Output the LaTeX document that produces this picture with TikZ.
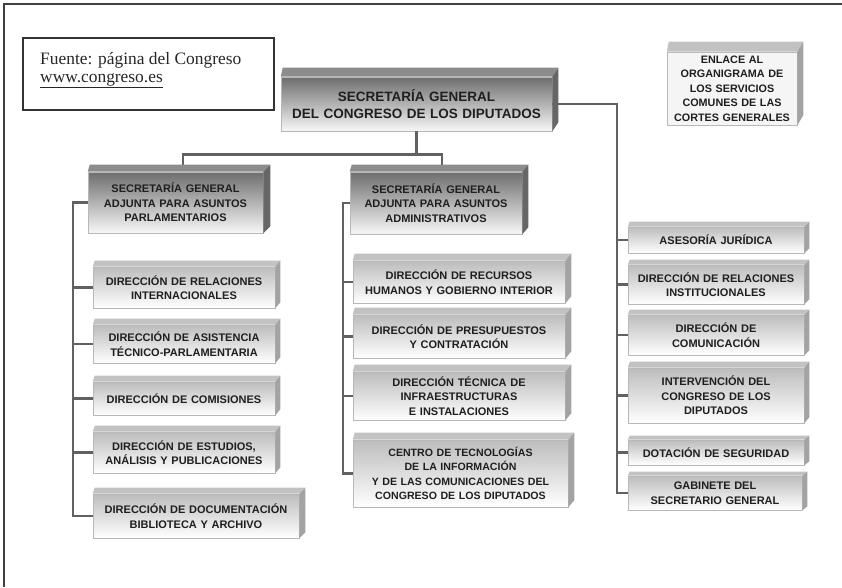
\documentclass[tikz,border=0pt]{standalone}
\RequirePackage{fontspec}
\RequirePackage{tikz}
\usetikzlibrary{calc}
\setmainfont{Liberation Serif}
\setsansfont{Liberation Sans}

\tikzset{
    box/.style={draw=black!28, line width=0.6pt, top color=black!26, bottom color=white,
        text=black!88, align=center, inner sep=0pt,
        font=\sffamily\bfseries\fontsize{11}{14.5}\selectfont},
    secbox/.style={box, top color=black!57, bottom color=black!3},
    linkbox/.style={box, top color=black!4, bottom color=black!4,
        font=\sffamily\bfseries\fontsize{10.8}{14.5}\selectfont},
    conn/.style={draw=black!62, line width=2.9pt},
    faceup/.style={fill=black!24},
    faceside/.style={fill=black!36},
    secup/.style={fill=black!45},
    secside/.style={fill=black!60},
}

\begin{document}
\begin{tikzpicture}[x=1pt,y=-1pt]
                \useasboundingbox (0,0) rectangle (842,587);
                \draw[black!75, line width=1.3pt] (4,587) |- (842,4);

                \node[draw=black!80, line width=1.3pt, minimum width=251pt, minimum height=72pt, inner sep=0pt] (fuente) at (148.5,74) {};
                \node[anchor=north west, align=left, inner sep=0pt, text=black!85,
                    font=\fontsize{17.4}{18}\selectfont] (fuentetxt) at (40,52)
                    {Fuente: página del Congreso\\\underline{www.congreso.es}};

                \node[secbox, text width=271pt, minimum height=54pt,
                    font=\sffamily\bfseries\fontsize{13.5}{17}\selectfont] (main) at (416.5,104)
                    {SECRETARÍA GENERAL\\DEL CONGRESO DE LOS DIPUTADOS};
                \node[linkbox, text width=130pt, minimum height=73pt] (enlace) at (732,88.5)
                    {ENLACE AL\\ORGANIGRAMA DE\\LOS SERVICIOS\\COMUNES DE LAS\\CORTES GENERALES};

                \node[secbox, text width=175pt, minimum height=61pt] (secpar) at (175.5,202.5)
                    {SECRETARÍA GENERAL\\ADJUNTA PARA ASUNTOS\\PARLAMENTARIOS};
                \node[secbox, text width=172pt, minimum height=62pt] (secadm) at (436,203)
                    {SECRETARÍA GENERAL\\ADJUNTA PARA ASUNTOS\\ADMINISTRATIVOS};

                \node[box, text width=182pt, minimum height=41pt] (relint) at (184,287.5)
                    {DIRECCIÓN DE RELACIONES\\INTERNACIONALES};
                \node[box, text width=182pt, minimum height=38pt] (asist) at (184,344)
                    {DIRECCIÓN DE ASISTENCIA\\TÉCNICO-PARLAMENTARIA};
                \node[box, text width=182pt, minimum height=33pt] (comis) at (184,398.5)
                    {DIRECCIÓN DE COMISIONES};
                \node[box, text width=182pt, minimum height=41pt] (estud) at (184,452.5)
                    {DIRECCIÓN DE ESTUDIOS,\\ANÁLISIS Y PUBLICACIONES};
                \node[box, text width=206pt, minimum height=44pt] (docu) at (196,516)
                    {DIRECCIÓN DE DOCUMENTACIÓN\\BIBLIOTECA Y ARCHIVO};

                \node[box, text width=212pt, minimum height=42pt] (recur) at (459,282)
                    {DIRECCIÓN DE RECURSOS\\HUMANOS Y GOBIERNO INTERIOR};
                \node[box, text width=212pt, minimum height=43pt] (presu) at (459,336.5)
                    {DIRECCIÓN DE PRESUPUESTOS\\Y CONTRATACIÓN};
                \node[box, text width=212pt, minimum height=48pt] (tecni) at (459,396)
                    {DIRECCIÓN TÉCNICA DE\\INFRAESTRUCTURAS\\E INSTALACIONES};
                \node[box, text width=215pt, minimum height=67pt,
                    font=\sffamily\bfseries\fontsize{10.6}{14.5}\selectfont] (cti) at (460.5,473.5)
                    {CENTRO DE TECNOLOGÍAS\\DE LA INFORMACIÓN\\Y DE LAS COMUNICACIONES DEL\\CONGRESO DE LOS DIPUTADOS};

                \node[box, text width=176pt, minimum height=26pt] (aseso) at (716,240)
                    {ASESORÍA JURÍDICA};
                \node[box, text width=176pt, minimum height=39pt] (relins) at (716,284.5)
                    {DIRECCIÓN DE RELACIONES\\INSTITUCIONALES};
                \node[box, text width=176pt, minimum height=40pt] (comun) at (716,335)
                    {DIRECCIÓN DE\\COMUNICACIÓN};
                \node[box, text width=176pt, minimum height=55pt] (inter) at (716,395.5)
                    {INTERVENCIÓN DEL\\CONGRESO DE LOS\\DIPUTADOS};
                \node[box, text width=176pt, minimum height=25pt] (dotac) at (716,452.5)
                    {DOTACIÓN DE SEGURIDAD};
                \node[box, text width=174pt, minimum height=34pt] (gabin) at (715,493)
                    {GABINETE DEL\\SECRETARIO GENERAL};

                \coordinate (split) at ($(main.south)+(0,23)$);
                \coordinate (lbus) at (73,0);
                \coordinate (cbus) at (343,0);
                \coordinate (rbus) at (617,0);

                \draw[conn] (main.south) -- (split);
                \draw[conn] ($(secpar.north)+(7.5,-7)$) |- (split) -| ($(secadm.north)+(6,-7)$);
                \draw[conn] (main.east) -| (rbus |- gabin.west) -- (gabin.west);
                \draw[conn] (secpar.west) -| (lbus |- docu.west) -- (docu.west);
                \draw[conn] (secadm.west) -| (cbus |- cti.west) -- (cti.west);
                \foreach \n in {relint,asist,comis,estud}
                    \draw[conn] (\n.west -| lbus) -- (\n.west);
                \foreach \n in {recur,presu,tecni}
                    \draw[conn] (\n.west -| cbus) -- (\n.west);
                \foreach \n in {aseso,relins,comun,inter,dotac}
                    \draw[conn] (\n.west -| rbus) -- (\n.west);

                \foreach \n/\dx/\dy in {main/6/9,secpar/7/7,secadm/6/7} {
                    \fill[secup] (\n.north west) -- ++(2,-\dy) -- ($(\n.north east)+(\dx,-\dy)$) -- (\n.north east) -- cycle;
                    \fill[secside] (\n.north east) -- ++(\dx,-\dy) -- ($(\n.south east)+(\dx,-\dy)$) -- (\n.south east) -- cycle;
                }
                \foreach \n/\dx/\dy in {enlace/6/10,relint/5/6,asist/5/6,comis/5/6,estud/5/6,docu/6/6,
                    recur/6/7,presu/6/7,tecni/6/7,cti/6/7,aseso/5/5,relins/5/5,comun/5/5,inter/5/6,dotac/5/4,gabin/5/4} {
                    \fill[faceup] (\n.north west) -- ++(2,-\dy) -- ($(\n.north east)+(\dx,-\dy)$) -- (\n.north east) -- cycle;
                    \fill[faceside] (\n.north east) -- ++(\dx,-\dy) -- ($(\n.south east)+(\dx,-\dy)$) -- (\n.south east) -- cycle;
                }
\end{tikzpicture}
\end{document}
